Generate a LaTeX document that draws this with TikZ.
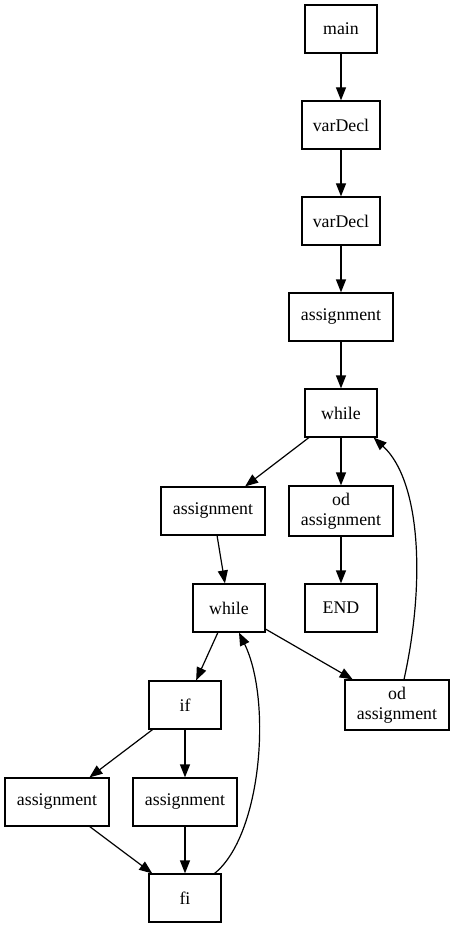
\documentclass[tikz,border=0pt]{standalone}
\usepackage{fontspec}
\setmainfont{Liberation Serif}
\usetikzlibrary{arrows.meta}

\begin{document}
\begin{tikzpicture}[
  x=1pt, y=-1pt,
  font=\fontsize{17.8}{20}\selectfont,
  every node/.style={align=center},
  blk/.style={draw, line width=1.2pt, minimum width=72pt,
              minimum height=48pt, inner sep=2pt},
  declblk/.style={blk, minimum width=78pt},
  wideblk/.style={blk, minimum width=104pt},
  arr/.style={-{Triangle[length=13pt,width=10pt]}, line width=1.2pt}
]
\useasboundingbox (0,0) rectangle (455,928);

\node[blk]     (main)   at (341,29)  {main};
\node[declblk] (decl1)  at (341,125) {varDecl};
\node[declblk] (decl2)  at (341,221) {varDecl};
\node[wideblk] (asg1)   at (341,317) {assignment};
\node[blk]     (while1) at (341,413) {while};
\node[wideblk] (asg2)   at (213,511) {assignment};
\node[wideblk, minimum height=50pt] (od1) at (341,511) {od\\assignment};
\node[blk]     (end)    at (341,608) {END};
\node[blk]     (while2) at (229,608) {while};
\node[wideblk, minimum height=50pt] (od2) at (397,705) {od\\assignment};
\node[blk]     (if)     at (185,705) {if};
\node[wideblk] (asg3)   at (57,802)  {assignment};
\node[wideblk] (asg4)   at (185,802) {assignment};
\node[blk]     (fi)     at (185,898) {fi};

\draw[arr] (main) -- (decl1);
\draw[arr] (decl1) -- (decl2);
\draw[arr] (decl2) -- (asg1);
\draw[arr] (asg1) -- (while1);
\draw[arr] (while1) -- (asg2);
\draw[arr] (while1) -- (od1);
\draw[arr] (od1) -- (end);
\draw[arr] (asg2) -- (while2);
\draw[arr] (while2) -- (if);
\draw[arr] (while2) -- (od2);
\draw[arr] (if) -- (asg3);
\draw[arr] (if) -- (asg4);
\draw[arr] (asg3) -- (fi);
\draw[arr] (asg4) -- (fi);
% back edges of the loops
\draw[arr] ([xshift=7pt]od2.north) .. controls (426,580) and (420,480)
  .. ([xshift=-4pt]while1.south east);
\draw[arr] ([xshift=-7pt]fi.north east) .. controls (262,835) and (272,700)
  .. ([xshift=10pt]while2.south);
\end{tikzpicture}
\end{document}
